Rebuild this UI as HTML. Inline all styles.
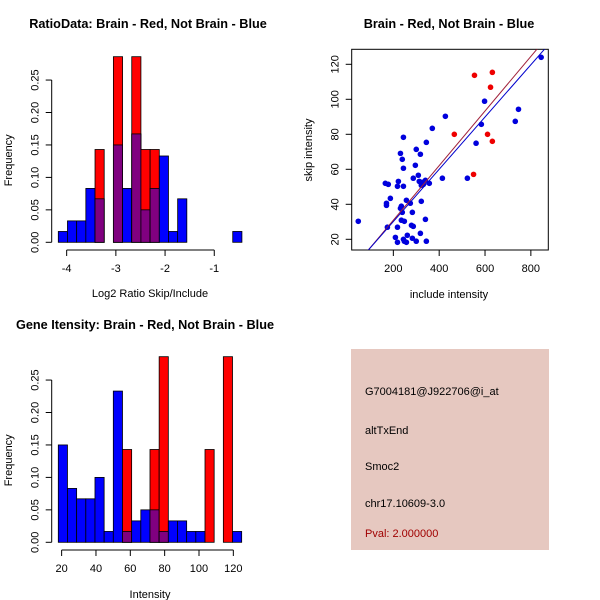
<!DOCTYPE html>
<html><head><meta charset="utf-8"><style>
body{margin:0;background:#fff;}
svg{display:block;font-family:"Liberation Sans",sans-serif;}
</style></head><body>
<svg id="c" width="600" height="600" xmlns="http://www.w3.org/2000/svg">
<rect width="600" height="600" fill="#fff"/>
<text x="148" y="28" font-size="12.7" font-weight="bold" text-anchor="middle">RatioData: Brain - Red, Not Brain - Blue</text>
<text x="449" y="28" font-size="12.7" font-weight="bold" text-anchor="middle">Brain - Red, Not Brain - Blue</text>
<text x="145" y="329" font-size="12.7" font-weight="bold" text-anchor="middle">Gene Itensity: Brain - Red, Not Brain - Blue</text>
<g id="ratio"></g>
<g id="inten"></g>
<g id="scat"></g>
<g>
<rect x="351" y="349" width="198" height="201" fill="#e6c8c0"/>
<text x="365" y="395" font-size="11">G7004181@J922706@i_at</text>
<text x="365" y="434" font-size="11">altTxEnd</text>
<text x="365" y="470" font-size="11">Smoc2</text>
<text x="365" y="507" font-size="11">chr17.10609-3.0</text>
<text x="365" y="537" font-size="11" fill="#a00000">Pval: 2.000000</text>
</g>
</svg>
<script>
// Ratio histogram data
const ratioStart = -4.17, ratioWidth = 0.1866;
const ratioBlue = [0.0167,0.033,0.033,0.083,0.067,0,0.15,0.083,0.167,0.05,0.083,0.133,0.0167,0.067,0,0,0,0,0,0.0167];
const ratioRed  = [0,0,0,0,0.143,0,0.286,0,0.286,0.143,0.143,0,0,0,0,0,0,0,0,0];
const ratioTicks = [-4,-3,-2,-1];
// Intensity histogram data
const intStart = 18.06, intWidth = 5.34;
const intBlue = [0.15,0.083,0.067,0.067,0.1,0.0167,0.233,0.0167,0.033,0.05,0.05,0.0167,0.033,0.033,0.0167,0.0167,0,0,0,0.0167];
const intRed  = [0,0,0,0,0,0,0,0.143,0,0,0.143,0.286,0,0,0,0,0.143,0,0.286,0];
const intTicks = [20,40,60,80,100,120];
const freqTicks = [0,0.05,0.10,0.15,0.20,0.25];
const freqLabels = ["0.00","0.05","0.10","0.15","0.20","0.25"];
// Scatter data
const redX = [554,632,624,466,611,632,550];
const redY = [113.7,115.4,106.9,80,80,76,57.1];
const blueX = [47,845,598,746,732,427,584,370,561,244,344,300,318,231,239,296,244,309,287,414,523,357,313,326,331,340,322,222,165,178,218,244,187,170,170,257,235,231,274,322,283,239,235,248,340,279,287,174,218,261,209,283,244,248,218,257,300,344,318];
const blueY = [30.3,124,98.9,94.3,87.4,90.3,85.7,83.4,74.9,78.3,75.4,71.4,68.6,69.1,65.7,62.3,60.6,56.6,54.9,54.9,54.9,52,53.1,52.6,51.4,53.7,50.9,53.1,52,51.4,50.3,50.3,43.4,40.6,39.4,42.3,38.9,37.7,40.6,41.7,35.4,35.4,30.9,30.3,31.4,28,27.4,26.9,26.9,22.3,21.1,20.6,20,18.9,18.3,18.3,18.9,18.9,23.4];
const lineSlope = [0.156, 0.1493];
const lineIntercept = [-0.3, 0.3];
const lineColor = ["#a0203a","#0000cd"];
const scatXTicks = [200,400,600,800];
const scatYTicks = [20,40,60,80,100,120];

const NS="http://www.w3.org/2000/svg";
function mk(parent,tag,attrs,txt){const e=document.createElementNS(NS,tag);for(const k in attrs)e.setAttribute(k,attrs[k]);if(txt!==undefined)e.textContent=txt;parent.appendChild(e);return e;}

function hist(gid, start, width, blue, red, ticks, x0px, pxPerUnit, y0px, xlab, xlabY, axisY){
  const g=document.getElementById(gid);
  const X=v=>x0px+(v-start)*pxPerUnit;
  const Y=v=>y0px-v*649;
  for(let i=0;i<blue.length;i++){
    const a=start+i*width,b=a+width;
    const bl=blue[i],rd=red[i],mn=Math.min(bl,rd);
    if(bl>0){const r=mk(g,'rect',{x:X(a),y:Y(bl),width:X(b)-X(a),height:Y(0)-Y(bl),fill:'#0000ff',stroke:'#000','stroke-width':0.8});
      
      }
    if(rd>0){const r=mk(g,'rect',{x:X(a),y:Y(rd),width:X(b)-X(a),height:Y(0)-Y(rd),fill:'#ff0000',stroke:'#000','stroke-width':0.8});
      
      }
    if(mn>0){const r=mk(g,'rect',{x:X(a),y:Y(mn),width:X(b)-X(a),height:Y(0)-Y(mn),fill:'#800080',stroke:'#000','stroke-width':0.8});
      
      }
  }
  const ax=mk(g,'line',{x1:X(ticks[0]),x2:X(ticks[ticks.length-1]),y1:axisY,y2:axisY,stroke:'#000'});
  
  
  ticks.forEach(t=>{mk(g,'line',{x1:X(t),x2:X(t),y1:axisY,y2:axisY+6,stroke:'#000'});
    const tl=mk(g,'text',{x:X(t),y:axisY+22,'font-size':11,'text-anchor':'middle'},String(t));
    
    });
  const xl=mk(g,'text',{x:150,y:xlabY,'font-size':11,'text-anchor':'middle'},xlab);
  
  
  const yx=51.7;
  const ay=mk(g,'line',{x1:yx,x2:yx,y1:Y(0),y2:Y(0.25),stroke:'#000'});
  
  
  freqTicks.forEach((t,i)=>{mk(g,'line',{x1:yx-6,x2:yx,y1:Y(t),y2:Y(t),stroke:'#000'});
    const tl=mk(g,'text',{x:yx-13,y:Y(t),'font-size':11,'text-anchor':'middle',transform:`rotate(-90 ${yx-13} ${Y(t)})`},freqLabels[i]);
    
    });
  const yl=mk(g,'text',{x:12,y:y0px-82,'font-size':11,'text-anchor':'middle',transform:`rotate(-90 12 ${y0px-82})`},'Frequency');
  
  
}
hist('ratio',ratioStart,ratioWidth,ratioBlue,ratioRed,ratioTicks,58.3,49.2,242.3,'Log2 Ratio Skip/Include',297,250);
hist('inten',intStart,intWidth,intBlue,intRed,intTicks,58.3,1.717,542.3,'Intensity',598,550);

(function(){
  const g=document.getElementById('scat');
  const X=v=>347.5+v*0.2292;
  const Y=v=>239.3-(v-20)*1.75;
  const L=351.7,R=548.3,T=49.3,B=250;
  const clip=mk(g,'clipPath',{id:'sc'});mk(clip,'rect',{x:L,y:T,width:R-L,height:B-T});
  const box=mk(g,'rect',{x:L,y:T,width:R-L,height:B-T,fill:'none',stroke:'#000'});
  
  
  blueX.forEach((x,i)=>{const c=mk(g,'circle',{cx:X(x),cy:Y(blueY[i]),r:2.8,fill:'#0000dd'});
    
    });
  redX.forEach((x,i)=>{const c=mk(g,'circle',{cx:X(x),cy:Y(redY[i]),r:2.8,fill:'#ee0000'});
    
    });
  lineSlope.forEach((s,i)=>{const x1=0,x2=900;
    const l=mk(g,'line',{x1:X(x1),y1:Y(lineIntercept[i]+s*x1),x2:X(x2),y2:Y(lineIntercept[i]+s*x2),stroke:lineColor[i],'stroke-width':1,'clip-path':'url(#sc)'});
    
    });
  scatXTicks.forEach(t=>{mk(g,'line',{x1:X(t),x2:X(t),y1:B,y2:B+6,stroke:'#000'});
    const tl=mk(g,'text',{x:X(t),y:B+22,'font-size':11,'text-anchor':'middle'},String(t));
    
    });
  scatYTicks.forEach(t=>{mk(g,'line',{x1:L-6,x2:L,y1:Y(t),y2:Y(t),stroke:'#000'});
    const tl=mk(g,'text',{x:L-13,y:Y(t),'font-size':11,'text-anchor':'middle',transform:`rotate(-90 ${L-13} ${Y(t)})`},String(t));
    
    });
  const xl=mk(g,'text',{x:449,y:298,'font-size':11,'text-anchor':'middle'},'include intensity');
  
  
  const yl=mk(g,'text',{x:312,y:150,'font-size':11,'text-anchor':'middle',transform:'rotate(-90 312 150)'},'skip intensity');
  
  
})();
</script>
</body></html>
